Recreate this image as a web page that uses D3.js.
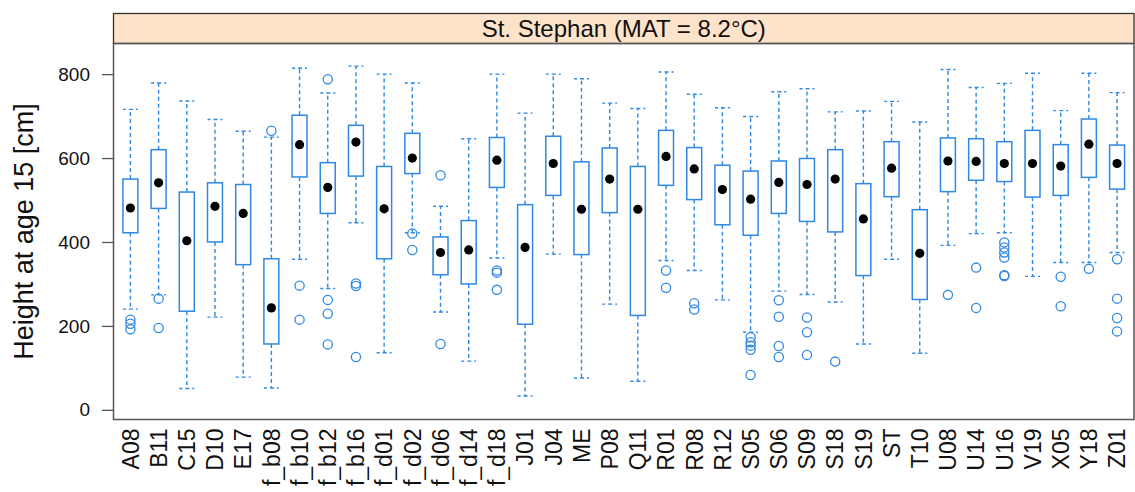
<!DOCTYPE html>
<html>
<head>
<meta charset="utf-8">
<script src="https://cdn.jsdelivr.net/npm/d3@7"></script>
<style>
  html, body { margin: 0; padding: 0; background: #fff; }
  svg { display: block; }
  text { font-family: "Liberation Sans", Arial, sans-serif; fill: #111; }
</style>
</head>
<body>
<svg id="chart" width="1135" height="492"></svg>
<script>
const categories = ["A08","B11","C15","D10","E17","f_b08","f_b10","f_b12","f_b16","f_d01","f_d02","f_d06","f_d14","f_d18","J01","J04","ME","P08","Q11","R01","R08","R12","S05","S06","S09","S18","S19","ST","T10","U08","U14","U16","V19","X05","Y18","Z01"];
const whiskerLow  = [240,274, 51,221, 78, 52,359,289,446,136,422,233,116,362, 33,371, 76,252, 68,356,332,262,185,283,275,257,157,359,135,392,420,422,318,351,351,375];
const q1          = [422,480,235,400,346,157,555,468,557,360,563,322,300,530,204,511,370,470,225,535,501,441,416,468,449,424,320,508,263,520,547,544,507,511,554,526];
const median      = [481,541,403,485,468,243,632,530,638,479,600,375,381,595,387,587,478,550,478,604,574,525,502,542,537,550,455,576,373,593,592,587,587,581,633,587];
const q3          = [550,620,519,541,537,360,702,589,678,580,659,412,451,649,489,652,591,624,580,666,625,583,569,593,599,620,539,639,477,648,646,639,666,632,693,631];
const whiskerHigh = [716,779,736,692,664,650,814,755,819,800,779,485,646,800,707,800,789,731,718,805,752,720,699,758,765,710,712,735,686,811,768,778,802,713,802,756];
const outliers = [
  [215,205,192],[265,195],[],[],[],[665],[296,215],[788,262,229,156],[301,295,126],[],
  [420,381],[559,157],[],[332,327,286],[],[],[],[],[],[332,291],
  [254,239],[],[173,161,153,143,83],[261,222,152,126],[220,185,131],[115],[],[],[],[274],
  [339,243],[399,387,375,363,321,319],[],[317,247],[336],[359,265,219,187]
];
const yTicks = [0,200,400,600,800];
const stripLabel = "St. Stephan (MAT = 8.2°C)";
const yTitle = "Height at age 15 [cm]";

const svg = d3.select("#chart");
const L = 113.5, R = 1134, T = 43.5, B = 419.5, stripTop = 13.5;
const blue = "#2f88e4";

const x = d3.scaleLinear().domain([0.4, categories.length + 0.6]).range([L, R]);
const y = d3.scaleLinear().domain([-23, 873]).range([B, T]);
const step = x(2) - x(1);
const bw = step * 0.53;

// strip
svg.append("rect").attr("x", L).attr("y", stripTop).attr("width", R - L).attr("height", T - stripTop)
  .attr("fill", "#fde3c9").attr("stroke", "#333").attr("stroke-width", 1.3);
svg.append("text").attr("x", (L + R) / 2).attr("y", (stripTop + T) / 2).attr("dy", "0.36em")
  .attr("text-anchor", "middle").attr("font-size", 24).text(stripLabel);

// panel
svg.append("rect").attr("x", L).attr("y", T).attr("width", R - L).attr("height", B - T)
  .attr("fill", "none").attr("stroke", "#555").attr("stroke-width", 1.5);

// y axis
const yAxis = d3.axisLeft(y).tickValues(yTicks).tickSize(11).tickPadding(12).tickFormat(d3.format("d"));
const ya = svg.append("g").attr("transform", `translate(${L - 0.5},0)`).call(yAxis);
ya.select(".domain").remove();
ya.selectAll(".tick line").attr("stroke", "#555").attr("stroke-width", 1.3);
ya.selectAll(".tick text").attr("font-size", 19).attr("fill", "#111")
  .attr("font-family", '"Liberation Sans", Arial, sans-serif');

// x labels
const xa = svg.append("g");
categories.forEach((c, i) => {
  xa.append("text")
    .attr("transform", `translate(${x(i + 1)},${B + 9}) rotate(-90)`)
    .attr("dy", "0.36em").attr("text-anchor", "end").attr("font-size", 23).text(c);
});

// y title
svg.append("text").attr("transform", `translate(33,${(T + B) / 2}) rotate(-90)`)
  .attr("text-anchor", "middle").attr("font-size", 27).text(yTitle);

// boxes
const g = svg.append("g");
categories.forEach((c, i) => {
  const cx = x(i + 1);
  const dash = "4,3";
  // whiskers
  g.append("line").attr("x1", cx).attr("x2", cx).attr("y1", y(q3[i])).attr("y2", y(whiskerHigh[i]))
    .attr("stroke", blue).attr("stroke-width", 1.4).attr("stroke-dasharray", dash);
  g.append("line").attr("x1", cx).attr("x2", cx).attr("y1", y(q1[i])).attr("y2", y(whiskerLow[i]))
    .attr("stroke", blue).attr("stroke-width", 1.4).attr("stroke-dasharray", dash);
  [whiskerHigh[i], whiskerLow[i]].forEach(v => {
    g.append("line").attr("x1", cx - bw / 2).attr("x2", cx + bw / 2).attr("y1", y(v)).attr("y2", y(v))
      .attr("stroke", blue).attr("stroke-width", 1.4).attr("stroke-dasharray", "4,3").attr("stroke-dashoffset", 1);
  });
  // box
  g.append("rect").attr("x", cx - bw / 2).attr("y", y(q3[i])).attr("width", bw)
    .attr("height", y(q1[i]) - y(q3[i])).attr("fill", "#fff").attr("stroke", blue).attr("stroke-width", 1.5);
  // median dot
  g.append("circle").attr("cx", cx).attr("cy", y(median[i])).attr("r", 4.6).attr("fill", "#000");
  // outliers
  outliers[i].forEach(v => {
    g.append("circle").attr("cx", cx).attr("cy", y(v)).attr("r", 4.6)
      .attr("fill", "none").attr("stroke", blue).attr("stroke-width", 1.3);
  });
});
</script>
</body>
</html>
